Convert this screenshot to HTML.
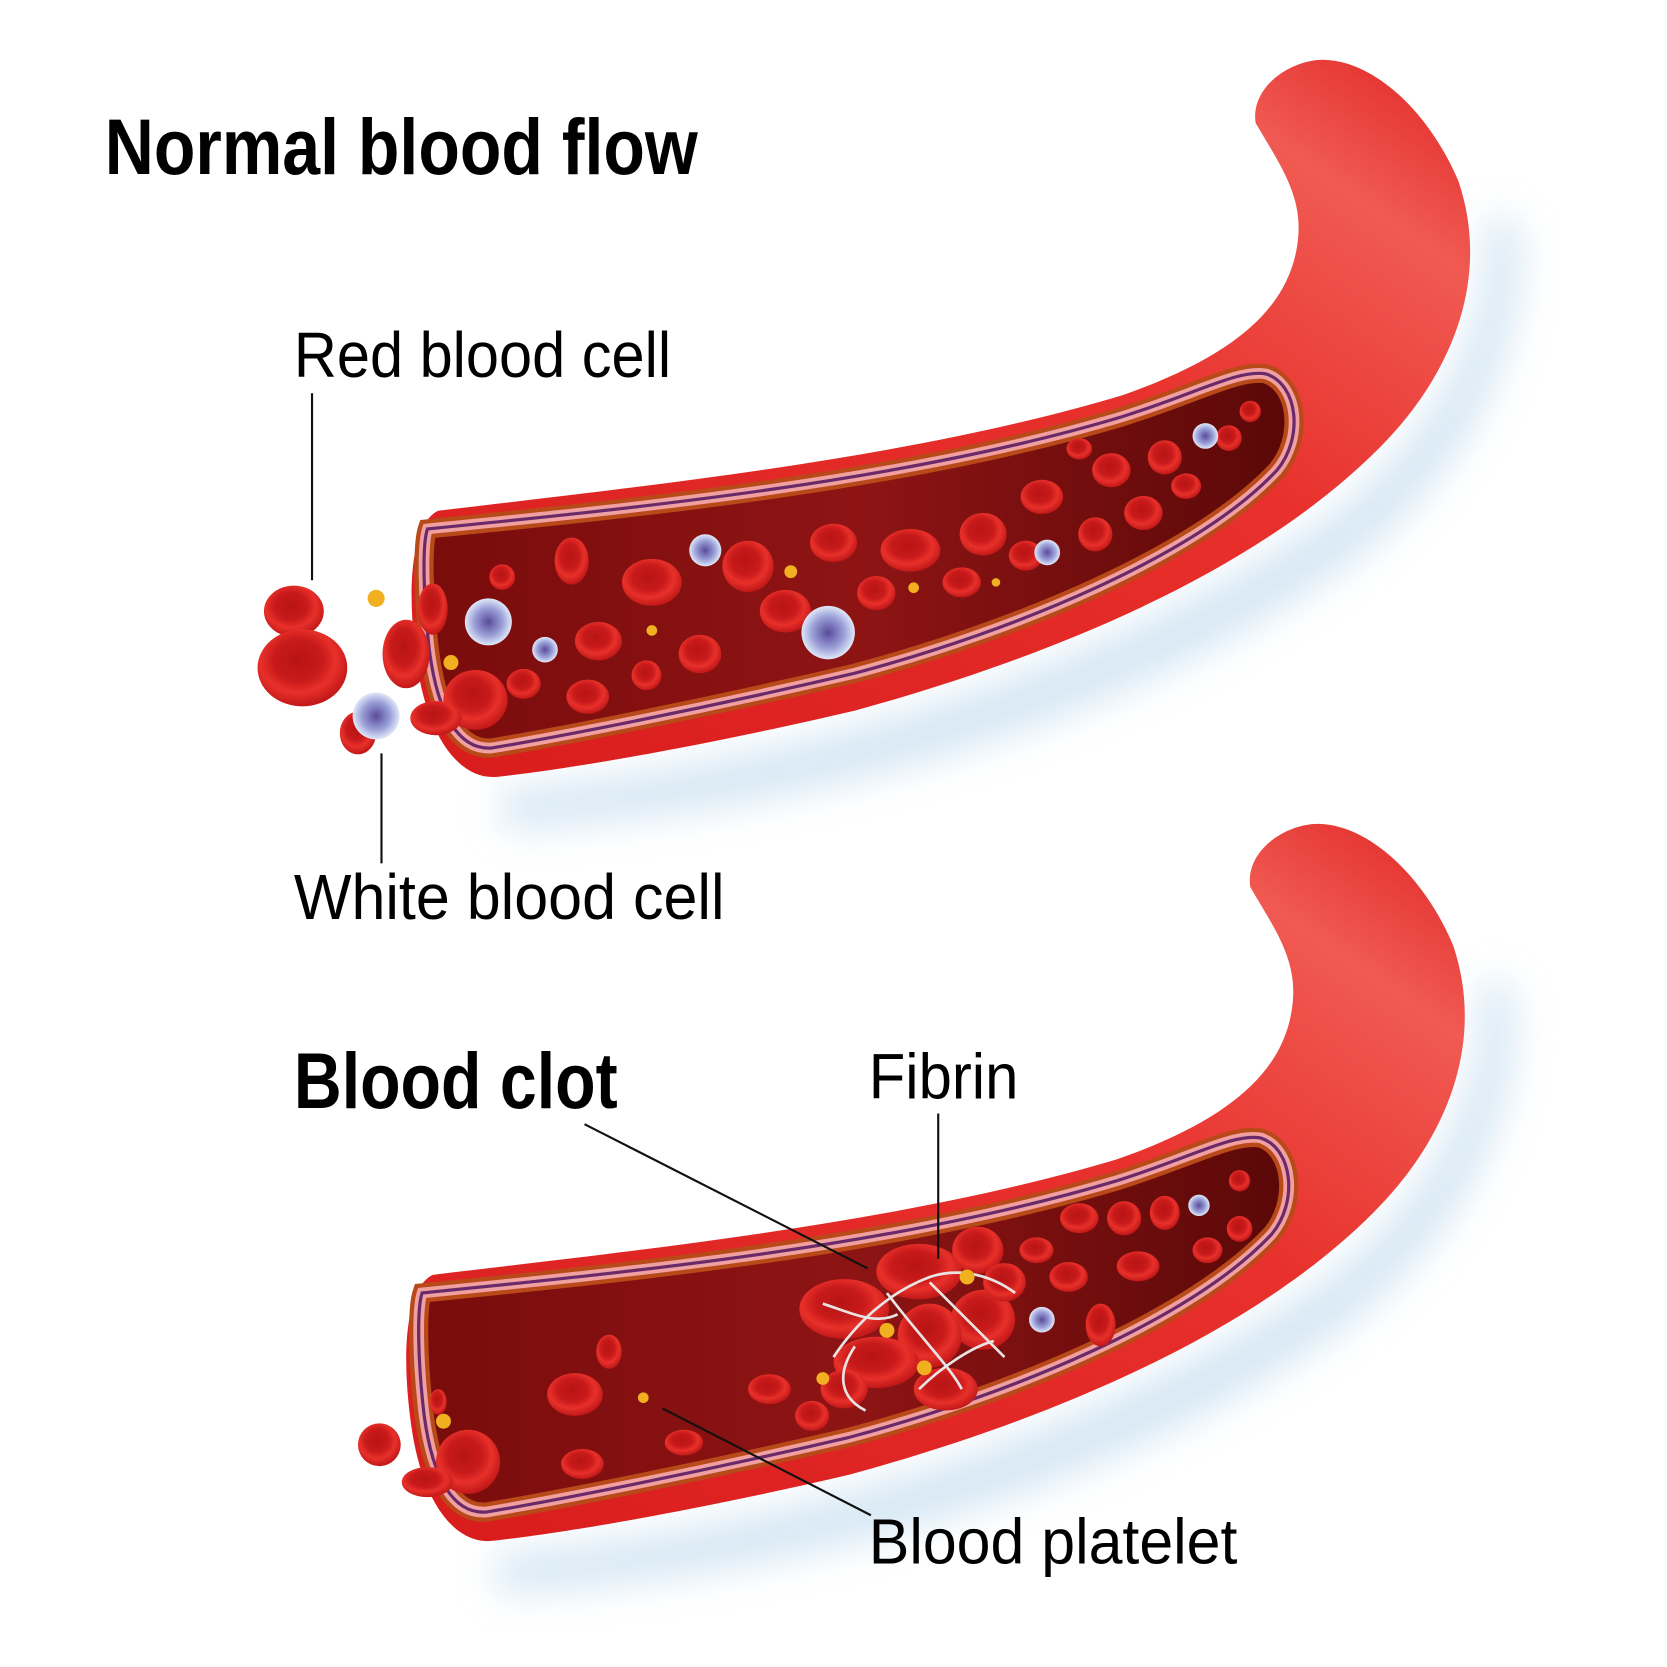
<!DOCTYPE html>
<html><head><meta charset="utf-8"><style>html,body{margin:0;padding:0;background:#fff}svg{display:block}</style></head>
<body>
<svg width="1667" height="1667" viewBox="0 0 1560 1560" xmlns="http://www.w3.org/2000/svg">
<defs>
<linearGradient id="body" x1="0" y1="1" x2="1" y2="0">
<stop offset="0" stop-color="#d81c1c"/><stop offset="0.6" stop-color="#e8302c"/><stop offset="0.85" stop-color="#f05a52"/><stop offset="1" stop-color="#e02424"/>
</linearGradient>
<linearGradient id="inner" x1="0" y1="0" x2="1" y2="0">
<stop offset="0" stop-color="#7a0c0c"/><stop offset="0.5" stop-color="#8e1414"/><stop offset="1" stop-color="#5a0808"/>
</linearGradient>
<radialGradient id="rbc" cx="0.45" cy="0.4" r="0.6">
<stop offset="0" stop-color="#b81414"/><stop offset="0.45" stop-color="#c81a1a"/><stop offset="0.7" stop-color="#e8302a"/><stop offset="1" stop-color="#c01818"/>
</radialGradient>
<radialGradient id="wbc" cx="0.5" cy="0.5" r="0.5">
<stop offset="0" stop-color="#5a4a9a"/><stop offset="0.6" stop-color="#9aa0d8"/><stop offset="1" stop-color="#e0e8f8"/>
</radialGradient>
<filter id="blur" x="-20%" y="-20%" width="140%" height="140%"><feGaussianBlur stdDeviation="18"/></filter>
<g id="vessel">
<path d="M 470,740 C 700,720 1000,650 1250,480 C 1350,400 1400,300 1390,200 L 1420,210 C 1430,320 1380,430 1270,520 C 1050,680 760,760 470,775 Z" fill="#cfe3f3" filter="url(#blur)" opacity="0.9"/>
<path d="M 410,478 C 600,455 850,430 1050,370 C 1150,335 1210,290 1215,220 C 1218,180 1195,150 1175,115 C 1170,80 1210,55 1240,56 C 1290,58 1340,110 1365,170 C 1395,260 1360,350 1290,420 C 1180,530 1000,610 800,665 C 650,700 530,720 465,727 C 430,730 400,690 390,620 C 380,550 385,490 410,478 Z" fill="url(#body)"/>
<path d="M 400,495 C 600,475 850,450 1050,390 C 1120,368 1160,345 1185,350 C 1215,360 1220,410 1195,440 C 1120,520 950,590 800,630 C 650,665 520,690 460,700 C 430,702 410,670 402,610 C 396,560 395,510 400,495 Z" fill="url(#inner)" stroke="#b84a1a" stroke-width="18"/>
<path d="M 400,495 C 600,475 850,450 1050,390 C 1120,368 1160,345 1185,350 C 1215,360 1220,410 1195,440 C 1120,520 950,590 800,630 C 650,665 520,690 460,700 C 430,702 410,670 402,610 C 396,560 395,510 400,495 Z" fill="none" stroke="#f0a0a0" stroke-width="10"/>
<path d="M 400,495 C 600,475 850,450 1050,390 C 1120,368 1160,345 1185,350 C 1215,360 1220,410 1195,440 C 1120,520 950,590 800,630 C 650,665 520,690 460,700 C 430,702 410,670 402,610 C 396,560 395,510 400,495 Z" fill="none" stroke="#6a2a6a" stroke-width="3"/>
</g>
</defs>

<use href="#vessel"/>
<use href="#vessel" transform="translate(-5,715)"/>

<g fill="url(#rbc)">
<ellipse cx="275" cy="572" rx="28" ry="24"/>
<ellipse cx="283" cy="625" rx="42" ry="36"/>
<ellipse cx="380" cy="612" rx="22" ry="32"/>
<ellipse cx="335" cy="686" rx="17" ry="20"/>
<ellipse cx="445" cy="655" rx="30" ry="28"/>
<ellipse cx="405" cy="570" rx="14" ry="24"/>
<ellipse cx="408" cy="672" rx="24" ry="16"/>
<ellipse cx="535" cy="525" rx="16" ry="22"/>
<ellipse cx="610" cy="545" rx="28" ry="22"/>
<ellipse cx="700" cy="530" rx="24" ry="24"/>
<ellipse cx="780" cy="508" rx="22" ry="18"/>
<ellipse cx="852" cy="515" rx="28" ry="20"/>
<ellipse cx="920" cy="500" rx="22" ry="20"/>
<ellipse cx="975" cy="465" rx="20" ry="16"/>
<ellipse cx="1040" cy="440" rx="18" ry="16"/>
<ellipse cx="1090" cy="428" rx="16" ry="16"/>
<ellipse cx="1150" cy="410" rx="12" ry="12"/>
<ellipse cx="1170" cy="385" rx="10" ry="10"/>
<ellipse cx="560" cy="600" rx="22" ry="18"/>
<ellipse cx="655" cy="612" rx="20" ry="18"/>
<ellipse cx="735" cy="572" rx="24" ry="20"/>
<ellipse cx="820" cy="555" rx="18" ry="16"/>
<ellipse cx="900" cy="545" rx="18" ry="14"/>
<ellipse cx="960" cy="520" rx="16" ry="14"/>
<ellipse cx="1025" cy="500" rx="16" ry="16"/>
<ellipse cx="1070" cy="480" rx="18" ry="16"/>
<ellipse cx="1110" cy="455" rx="14" ry="12"/>
<ellipse cx="490" cy="640" rx="16" ry="14"/>
<ellipse cx="550" cy="652" rx="20" ry="16"/>
<ellipse cx="605" cy="632" rx="14" ry="14"/>
<ellipse cx="470" cy="540" rx="12" ry="12"/>
<ellipse cx="1010" cy="420" rx="12" ry="10"/>
</g>
<g fill="url(#wbc)">
<circle cx="457" cy="582" r="22"/><circle cx="352" cy="670" r="22"/><circle cx="775" cy="592" r="25"/>
<circle cx="660" cy="515" r="15"/><circle cx="510" cy="608" r="12"/><circle cx="980" cy="517" r="12"/><circle cx="1128" cy="408" r="12"/>
</g>
<g fill="#f0b020">
<circle cx="352" cy="560" r="8"/><circle cx="422" cy="620" r="7"/><circle cx="740" cy="535" r="6"/><circle cx="855" cy="550" r="5"/><circle cx="610" cy="590" r="5"/><circle cx="932" cy="545" r="4"/>
</g>

<g fill="url(#rbc)">
<ellipse cx="355" cy="1352" rx="20" ry="20"/>
<ellipse cx="438" cy="1368" rx="30" ry="30"/>
<ellipse cx="400" cy="1387" rx="24" ry="14"/>
<ellipse cx="410" cy="1312" rx="8" ry="12"/>
<ellipse cx="538" cy="1305" rx="26" ry="20"/>
<ellipse cx="570" cy="1265" rx="12" ry="16"/>
<ellipse cx="545" cy="1370" rx="20" ry="14"/>
<ellipse cx="720" cy="1300" rx="20" ry="14"/>
<ellipse cx="760" cy="1325" rx="16" ry="14"/>
<ellipse cx="640" cy="1350" rx="18" ry="12"/>
<ellipse cx="1010" cy="1140" rx="18" ry="14"/>
<ellipse cx="1052" cy="1140" rx="16" ry="16"/>
<ellipse cx="1090" cy="1135" rx="14" ry="16"/>
<ellipse cx="1065" cy="1185" rx="20" ry="14"/>
<ellipse cx="1000" cy="1195" rx="18" ry="14"/>
<ellipse cx="1130" cy="1170" rx="14" ry="12"/>
<ellipse cx="1160" cy="1150" rx="12" ry="12"/>
<ellipse cx="1160" cy="1105" rx="10" ry="10"/>
<ellipse cx="1030" cy="1240" rx="14" ry="20"/>
<ellipse cx="970" cy="1170" rx="16" ry="12"/>
</g>
<g fill="url(#rbc)">
<ellipse cx="790" cy="1225" rx="42" ry="28"/>
<ellipse cx="860" cy="1190" rx="40" ry="26"/>
<ellipse cx="915" cy="1170" rx="24" ry="22"/>
<ellipse cx="920" cy="1235" rx="30" ry="28"/>
<ellipse cx="870" cy="1250" rx="30" ry="30"/>
<ellipse cx="820" cy="1275" rx="40" ry="24"/>
<ellipse cx="885" cy="1300" rx="30" ry="20"/>
<ellipse cx="940" cy="1200" rx="20" ry="18"/>
<ellipse cx="790" cy="1300" rx="22" ry="18"/>
</g>
<g fill="none" stroke="#e8e4e4" stroke-width="2.5">
<path d="M 780,1270 C 800,1240 830,1210 870,1195 C 900,1185 930,1195 950,1210"/>
<path d="M 830,1210 C 860,1250 890,1280 900,1300"/>
<path d="M 870,1200 C 900,1230 920,1250 940,1270"/>
<path d="M 800,1260 C 780,1290 790,1310 810,1320"/>
<path d="M 860,1300 C 880,1280 910,1260 930,1255"/>
<path d="M 770,1220 C 800,1230 820,1240 840,1230"/>
</g>
<g fill="#f0b020">
<circle cx="415" cy="1330" r="7"/><circle cx="602" cy="1308" r="5"/><circle cx="830" cy="1245" r="7"/><circle cx="865" cy="1280" r="7"/><circle cx="905" cy="1195" r="7"/><circle cx="770" cy="1290" r="6"/>
</g>
<g fill="url(#wbc)"><circle cx="975" cy="1235" r="12"/><circle cx="1122" cy="1128" r="10"/></g>

<g stroke="#111" stroke-width="2" fill="none">
<line x1="292" y1="368" x2="292" y2="543"/>
<line x1="357" y1="705" x2="357" y2="808"/>
<line x1="547" y1="1052" x2="812" y2="1187"/>
<line x1="878" y1="1042" x2="878" y2="1178"/>
<line x1="620" y1="1318" x2="815" y2="1418"/>
</g>

<g font-family="'Liberation Sans', sans-serif" fill="#000">
<text x="98" y="163" font-size="74" font-weight="bold" textLength="555" lengthAdjust="spacingAndGlyphs">Normal blood flow</text>
<text x="275" y="353" font-size="60" textLength="353" lengthAdjust="spacingAndGlyphs">Red blood cell</text>
<text x="275" y="860" font-size="60" textLength="403" lengthAdjust="spacingAndGlyphs">White blood cell</text>
<text x="275" y="1037" font-size="74" font-weight="bold" textLength="303" lengthAdjust="spacingAndGlyphs">Blood clot</text>
<text x="813" y="1028" font-size="60" textLength="140" lengthAdjust="spacingAndGlyphs">Fibrin</text>
<text x="813" y="1463" font-size="60" textLength="345" lengthAdjust="spacingAndGlyphs">Blood platelet</text>
</g>
</svg>
</body></html>
